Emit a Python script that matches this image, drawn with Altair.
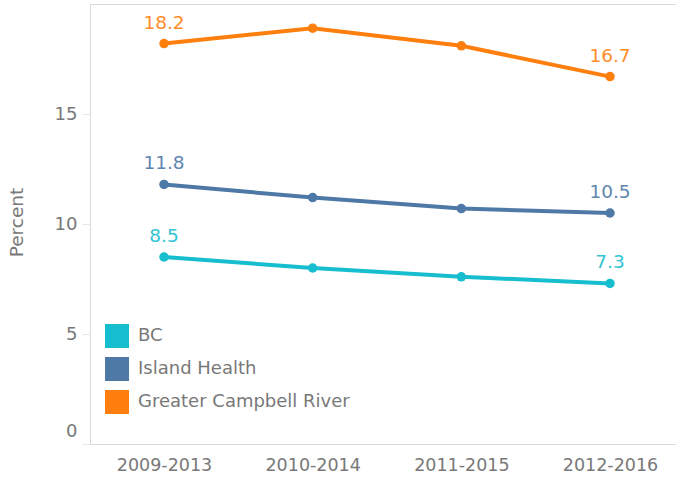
import altair as alt
import pandas as pd

periods = ["2009-2013", "2010-2014", "2011-2015", "2012-2016"]
series = ["BC", "Island Health", "Greater Campbell River"]
bc = [8.5, 8.0, 7.6, 7.3]
island = [11.8, 11.2, 10.7, 10.5]
gcr = [18.2, 18.9, 18.1, 16.7]
colors = ["#17becf", "#4e79a7", "#ff7f0e"]

rows = []
for name, vals in zip(series, [bc, island, gcr]):
    for i, (p, v) in enumerate(zip(periods, vals)):
        rows.append({"period": p, "region": name, "value": v,
                     "endpoint": i == 0 or i == len(periods) - 1})
df = pd.DataFrame(rows)

FONT = "DejaVu Sans"
TXT = "#787878"
cscale = alt.Scale(domain=series, range=colors)
color = alt.Color("region:N", scale=cscale, sort=series,
                  legend=alt.Legend(title=None, orient="none", legendX=15, legendY=320,
                                    symbolType="square", symbolSize=576,
                                    symbolStrokeWidth=0, symbolOpacity=1,
                                    labelFontSize=18, labelColor=TXT, labelLimit=0,
                                    labelFont=FONT, rowPadding=9, labelOffset=9))

x = alt.X("period:O", sort=periods, title=None,
          scale=alt.Scale(type="point", range=[74, 520], padding=0),
          axis=alt.Axis(labelAngle=0, labelFontSize=17.5, labelColor=TXT,
                        labelFont=FONT, ticks=False, domain=False, labelPadding=12))
y = alt.Y("value:Q", title="Percent",
          scale=alt.Scale(domain=[0, 20], nice=False),
          axis=alt.Axis(values=[0, 5, 10, 15], grid=False, domain=False,
                        tickColor="#e6e6e6", tickSize=8, labelPadding=5,
                        labelFontSize=18, labelColor=TXT, labelFont=FONT,
                        labelOffset={"condition": {"test": "datum.value === 0", "value": -13}, "value": 0},
                        titleFontSize=18.5, titleColor=TXT, titleFont=FONT,
                        titleFontWeight="normal", titleX=-74, titleY=218,
                        titleAlign="center", titleBaseline="middle"))

base = alt.Chart(df)
lines = base.mark_line(strokeWidth=4).encode(x=x, y=y, color=color, detail="region:N")
pts = base.mark_circle(size=90, opacity=1).encode(
    x=x, y=y, color=alt.Color("region:N", legend=None, scale=cscale))
labels = base.transform_filter("datum.endpoint").mark_text(
    dy=-21, fontSize=18.5, font=FONT, opacity=0.9).encode(
    x=x, y=y, text=alt.Text("value:Q", format=".1f"),
    color=alt.Color("region:N", legend=None, scale=cscale))

chart = (lines + pts + labels).properties(
    width=586, height=440,
    autosize=alt.AutoSizeParams(type="none"),
    padding={"left": 90, "top": 4, "right": 0, "bottom": 33},
    background="white",
).configure_view(stroke="#d9d9d9", strokeWidth=1)

chart.save("out.html", embed_options={"renderer": "svg", "actions": False})
